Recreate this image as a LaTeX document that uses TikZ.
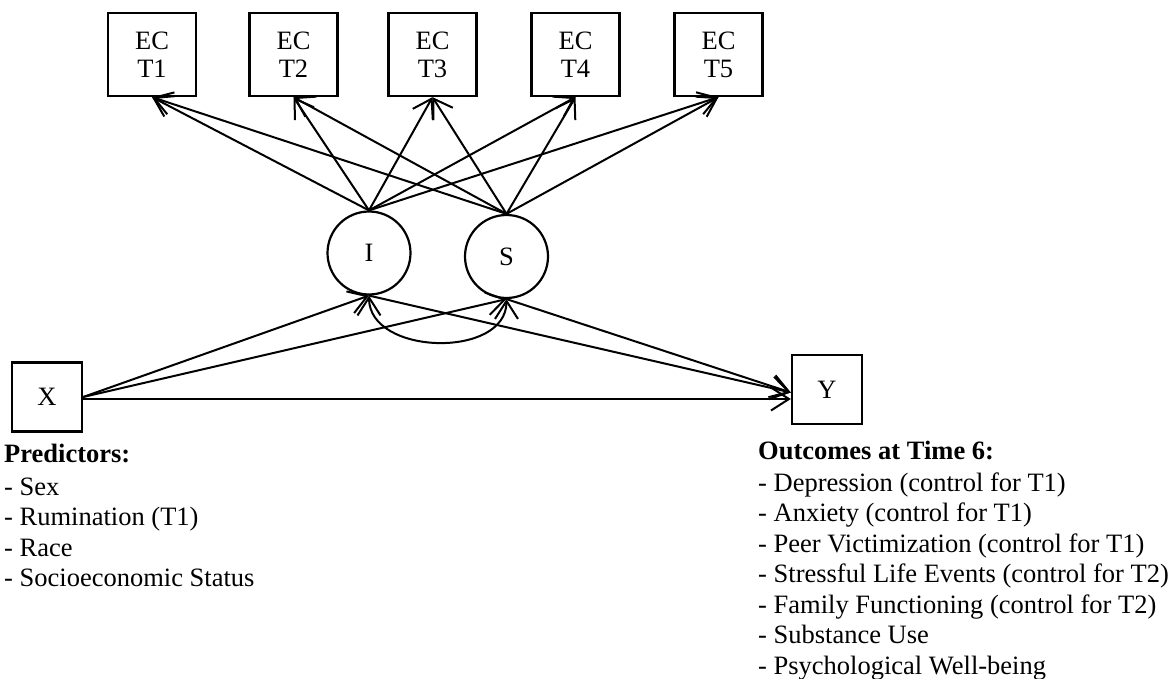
\documentclass[tikz,border=0pt]{standalone}
\usepackage{fontspec}
\setmainfont{Liberation Serif}
\usetikzlibrary{arrows.meta}
\begin{document}
\begin{tikzpicture}[x=1pt,y=-1pt,
  every node/.style={font=\fontsize{26.5}{27}\selectfont},
  boxnode/.style={draw,line width=2.3pt,rectangle,inner sep=0pt,align=center},
  ecbox/.style={boxnode,minimum width=88pt,minimum height=83pt},
  latent/.style={draw,line width=2.2pt,circle,inner sep=0pt,minimum size=83pt},
  obsbox/.style={boxnode,minimum width=70pt,minimum height=69pt},
  tip/.style={Straight Barb[length=18pt,width=23pt,line width=2pt]},
  arr/.style={line width=2pt,-{Straight Barb[length=18pt,width=23pt,line width=2pt]}},
  darr/.style={line width=2pt,{Straight Barb[length=18pt,width=23pt,line width=2pt]}-{Straight Barb[length=18pt,width=23pt,line width=2pt]}},
  listtxt/.style={align=left,anchor=north west,inner sep=0pt,font=\fontsize{26.5}{30.5}\selectfont}
]
\useasboundingbox (0,0) rectangle (1176,679);
% EC boxes
\node[ecbox] (t1) at (152,54.5) {EC\\[1pt]T1};
\node[ecbox] (t2) at (293.5,54.5) {EC\\[1pt]T2};
\node[ecbox] (t3) at (432.5,54.5) {EC\\[1pt]T3};
\node[ecbox] (t4) at (575.5,54.5) {EC\\[1pt]T4};
\node[ecbox] (t5) at (718.5,54.5) {EC\\[1pt]T5};
% latent factors
\node[latent] (I) at (369,253) {I};
\node[latent] (S) at (506.5,256.5) {S};
% observed
\node[obsbox] (X) at (47,397) {X};
\node[obsbox] (Y) at (827,389.5) {Y};
\coordinate (yin) at ([yshift=-3pt]Y.west);
% loadings
\foreach \t in {t1,t2,t3,t4,t5}{
  \draw[arr] (I.north) -- (\t.south);
  \draw[arr] (S.north) -- (\t.south);
}
% structural paths
\draw[arr] (X.east) -- (I.south);
\draw[arr] (X.east) -- (S.south);
\draw[arr] (I.south) -- (yin);
\draw[arr] (S.south) -- (yin);
\draw[arr] ([yshift=-2pt]X.east) -- ([yshift=-2pt]X.east -| Y.west);
% covariance
\draw[darr] (I.south) .. controls +(0,60) and +(0,60) .. (S.south);
% text blocks
\node[listtxt] (pred) at (4,444) {\textbf{Predictors:}\\[2pt]- Sex\\- Rumination (T1)\\- Race\\- Socioeconomic Status};
\node[listtxt] (outc) at (758,441) {\textbf{Outcomes at Time 6:}\\[1pt]- Depression (control for T1)\\- Anxiety (control for T1)\\- Peer Victimization (control for T1)\\- Stressful Life Events (control for T2)\\- Family Functioning (control for T2)\\- Substance Use\\- Psychological Well-being};
\end{tikzpicture}
\end{document}
